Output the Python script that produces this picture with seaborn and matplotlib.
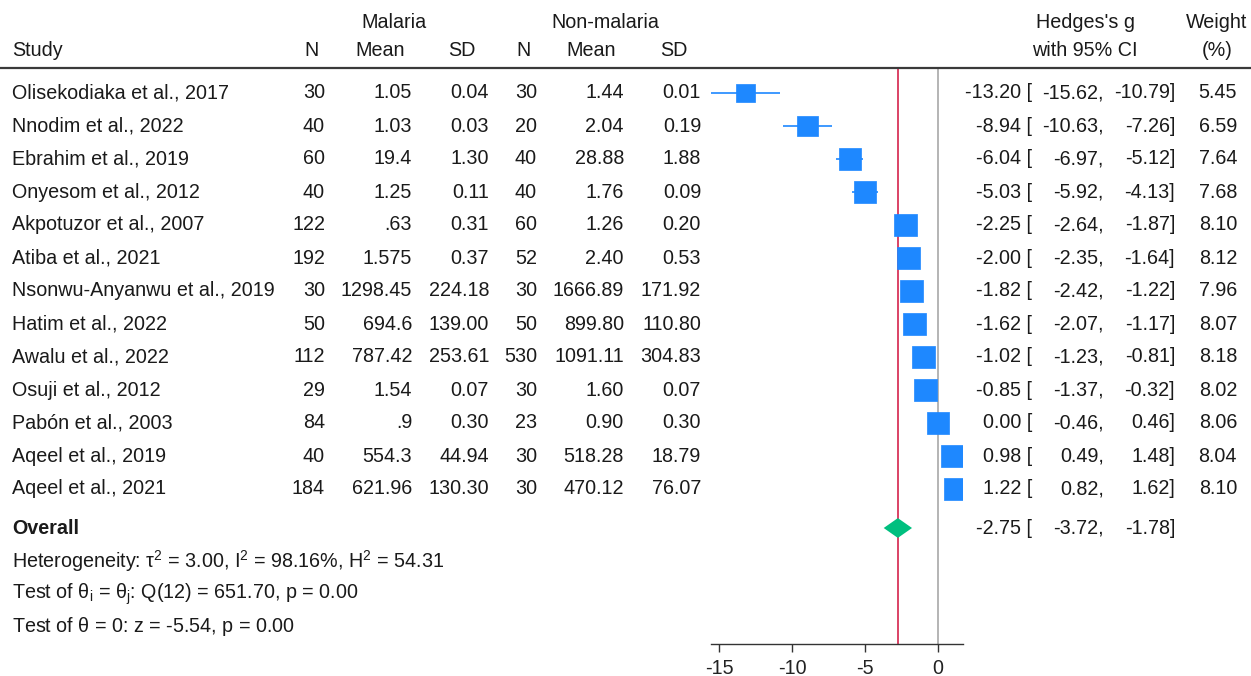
import matplotlib
matplotlib.use("Agg")
import matplotlib.pyplot as plt
import matplotlib.transforms as mtransforms
from matplotlib.lines import Line2D
import numpy as np
import pandas as pd
import seaborn as sns

# data
studies = ["Olisekodiaka et al., 2017", "Nnodim et al., 2022", "Ebrahim et al., 2019",
           "Onyesom et al., 2012", "Akpotuzor et al., 2007", "Atiba et al., 2021",
           "Nsonwu-Anyanwu et al., 2019", "Hatim et al., 2022", "Awalu et al., 2022",
           "Osuji et al., 2012", "Pabón et al., 2003", "Aqeel et al., 2019", "Aqeel et al., 2021"]
n_mal = [30, 40, 60, 40, 122, 192, 30, 50, 112, 29, 84, 40, 184]
mean_mal = ["1.05", "1.03", "19.4", "1.25", ".63", "1.575", "1298.45", "694.6", "787.42",
            "1.54", ".9", "554.3", "621.96"]
sd_mal = ["0.04", "0.03", "1.30", "0.11", "0.31", "0.37", "224.18", "139.00", "253.61",
          "0.07", "0.30", "44.94", "130.30"]
n_non = [30, 20, 40, 40, 60, 52, 30, 50, 530, 30, 23, 30, 30]
mean_non = ["1.44", "2.04", "28.88", "1.76", "1.26", "2.40", "1666.89", "899.80", "1091.11",
            "1.60", "0.90", "518.28", "470.12"]
sd_non = ["0.01", "0.19", "1.88", "0.09", "0.20", "0.53", "171.92", "110.80", "304.83",
          "0.07", "0.30", "18.79", "76.07"]
hedges_g = [-13.20, -8.94, -6.04, -5.03, -2.25, -2.00, -1.82, -1.62, -1.02, -0.85, 0.00, 0.98, 1.22]
ci_low = [-15.62, -10.63, -6.97, -5.92, -2.64, -2.35, -2.42, -2.07, -1.23, -1.37, -0.46, 0.49, 0.82]
ci_high = [-10.79, -7.26, -5.12, -4.13, -1.87, -1.64, -1.22, -1.17, -0.81, -0.32, 0.46, 1.48, 1.62]
weights = [5.45, 6.59, 7.64, 7.68, 8.10, 8.12, 7.96, 8.07, 8.18, 8.02, 8.06, 8.04, 8.10]
overall = [-2.75, -3.72, -1.78]
stats_lines = [r"Heterogeneity: $\mathregular{\tau^2}$ = 3.00, $\mathregular{I^2}$ = 98.16%, $\mathregular{H^2}$ = 54.31",
               r"Test of $\mathregular{\theta_i}$ = $\mathregular{\theta_j}$: Q(12) = 651.70, p = 0.00",
               r"Test of $\mathregular{\theta}$ = 0: z = -5.54, p = 0.00"]
xticks = [-15, -10, -5, 0]

df = pd.DataFrame({"study": studies, "g": hedges_g, "lo": ci_low, "hi": ci_high, "w": weights})
df["row"] = np.arange(len(df))

sns.set_theme(style="white")
plt.rcParams["font.family"] = ["Liberation Sans", "DejaVu Sans"]
plt.rcParams["mathtext.fontset"] = "custom"
plt.rcParams["mathtext.rm"] = "Liberation Sans"
plt.rcParams["mathtext.it"] = "Liberation Sans:italic"
plt.rcParams["axes.unicode_minus"] = False

W, H = 1251, 676
FS = 14.2
BLUE = "#1E88FF"
AX_BOTTOM = 644

fig = plt.figure(figsize=(W / 100, H / 100), dpi=100)
ax = fig.add_axes([711 / W, 1 - AX_BOTTOM / H, (963 - 711) / W, (AX_BOTTOM - 68) / H])

# 0 -> px 938, 14.6 px per unit
ax.set_xlim((711 - 938) / 14.6, (963 - 938) / 14.6)
ax.set_ylim((AX_BOTTOM - 93) / 33, (68 - 93) / 33)

ax.axvline(0, color="#A8A8A8", lw=1.2, zorder=1)
ax.axvline(overall[0], color="#D4224C", lw=1.2, zorder=1)

ax.hlines(df["row"], df["lo"], df["hi"], color=BLUE, lw=1.2, zorder=2)
sns.scatterplot(data=df, x="g", y="row", size="w", sizes=(33 * min(weights), 33 * max(weights)),
                marker="s", color=BLUE, edgecolor=BLUE, linewidth=0.5, legend=False, ax=ax, zorder=3)

y_over = (528 - 93) / 33
dh = 0.3
ax.fill([overall[1], overall[0], overall[2], overall[0]],
        [y_over, y_over - dh, y_over, y_over + dh], color="#00BF7F", lw=0, zorder=4)

ax.set_xticks(xticks)
ax.set_xticklabels([str(t) for t in xticks], fontsize=FS)
ax.set_yticks([])
ax.set_xlabel("")
ax.set_ylabel("")
for s in ["top", "left", "right"]:
    ax.spines[s].set_visible(False)
ax.spines["bottom"].set_color("#333333")
ax.spines["bottom"].set_linewidth(1.0)
ax.tick_params(axis="x", bottom=True, length=6, width=1.0, color="#333333", pad=5, labelcolor="#222222")
ax.patch.set_alpha(0)

trans = mtransforms.blended_transform_factory(fig.transFigure, ax.transData)


def put(px, row, s, ha="right", **kw):
    ax.text(px / W, row, s, ha=ha, va="center", transform=trans, fontsize=FS,
            color="#1a1a1a", clip_on=False, **kw)


# header
r1, r2 = (22 - 93) / 33, (50 - 93) / 33
put(394, r1, "Malaria", ha="center")
put(605, r1, "Non-malaria", ha="center")
put(1085, r1, "Hedges's g", ha="center")
put(1217, r1, "Weight", ha="center")
put(12, r2, "Study", ha="left")
for px, lab in [(311, "N"), (380, "Mean"), (462, "SD"), (523, "N"), (591, "Mean"), (674, "SD")]:
    put(px, r2, lab, ha="center")
put(1085, r2, "with 95% CI", ha="center")
put(1217, r2, "(%)", ha="center")
fig.add_artist(Line2D([0, 1], [1 - 68 / H, 1 - 68 / H], transform=fig.transFigure,
                      color="#3a3a3a", lw=1.6))

# table rows
for i in range(len(studies)):
    put(12, i, studies[i], ha="left")
    put(325, i, str(n_mal[i]))
    put(412, i, mean_mal[i])
    put(489, i, sd_mal[i])
    put(537, i, str(n_non[i]))
    put(624, i, mean_non[i])
    put(701, i, sd_non[i])
    put(1032, i, f"{hedges_g[i]:.2f} [")
    put(1104, i, f"{ci_low[i]:.2f},")
    put(1175, i, f"{ci_high[i]:.2f}]")
    put(1237, i, f"{weights[i]:.2f}")

put(12, y_over, "Overall", ha="left", fontweight="bold")
put(1032, y_over, f"{overall[0]:.2f} [")
put(1104, y_over, f"{overall[1]:.2f},")
put(1175, y_over, f"{overall[2]:.2f}]")
for k, line in enumerate(stats_lines):
    put(12, y_over + 1 + k, line, ha="left")

fig.savefig("out.png", dpi=100)
